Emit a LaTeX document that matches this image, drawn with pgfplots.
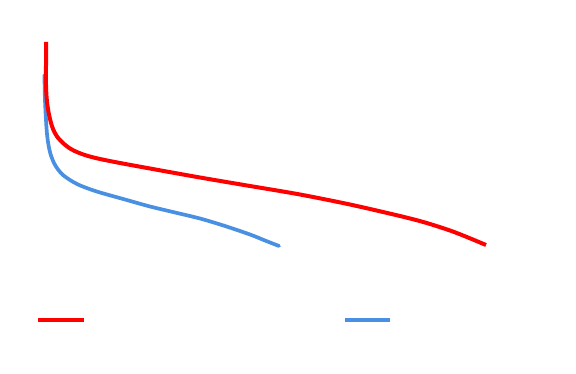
\documentclass[border=0pt]{standalone}
\usepackage{pgfplots}
\pgfplotsset{compat=1.18}
\definecolor{cred}{RGB}{255,0,0}
\definecolor{cblue}{RGB}{74,144,226}
\begin{document}
\begin{tikzpicture}
\begin{axis}[
  scale only axis, width=576bp, height=374bp,
  xmin=0, xmax=576, ymin=0, ymax=374, y dir=reverse,
  hide axis, clip=false,
]
\path (axis cs:0,0) rectangle (axis cs:576,374);
% blue series
\addplot[cblue, line width=3.7bp, smooth, tension=0.5, line cap=round] coordinates {
 (44.5,75) (44.7,90) (45.2,105) (46,120) (47,134) (48.5,145) (50.5,154) (54,163) (58,169.5) (63,175)
 (70,180) (78,184.5) (88,188.5) (100,192.5) (125,199.5) (150,206.5) (175,212.5) (200,218.5) (225,226)
 (250,234.5) (265,240.5) (279,246)
};
% red series
\addplot[cred, line width=4bp, smooth, tension=0.5, line cap=butt] coordinates {
 (46,42) (46,65) (46,85) (46.3,93) (47,102) (48.5,112) (50.5,121) (53,129) (57,136.5) (63,143) (70,148.5)
 (78,152.5) (88,156) (100,159) (120,163) (150,168.5) (200,177.5) (250,186) (300,194.5) (350,204.5)
 (400,216) (425,222.5) (450,230.5) (468,237.5) (486,245)
};
% legend samples
\addplot[cred, line width=4bp] coordinates {(38,320) (84,320)};
\addplot[cblue, line width=4bp] coordinates {(345,320) (390,320)};
\end{axis}
\end{tikzpicture}
\end{document}
